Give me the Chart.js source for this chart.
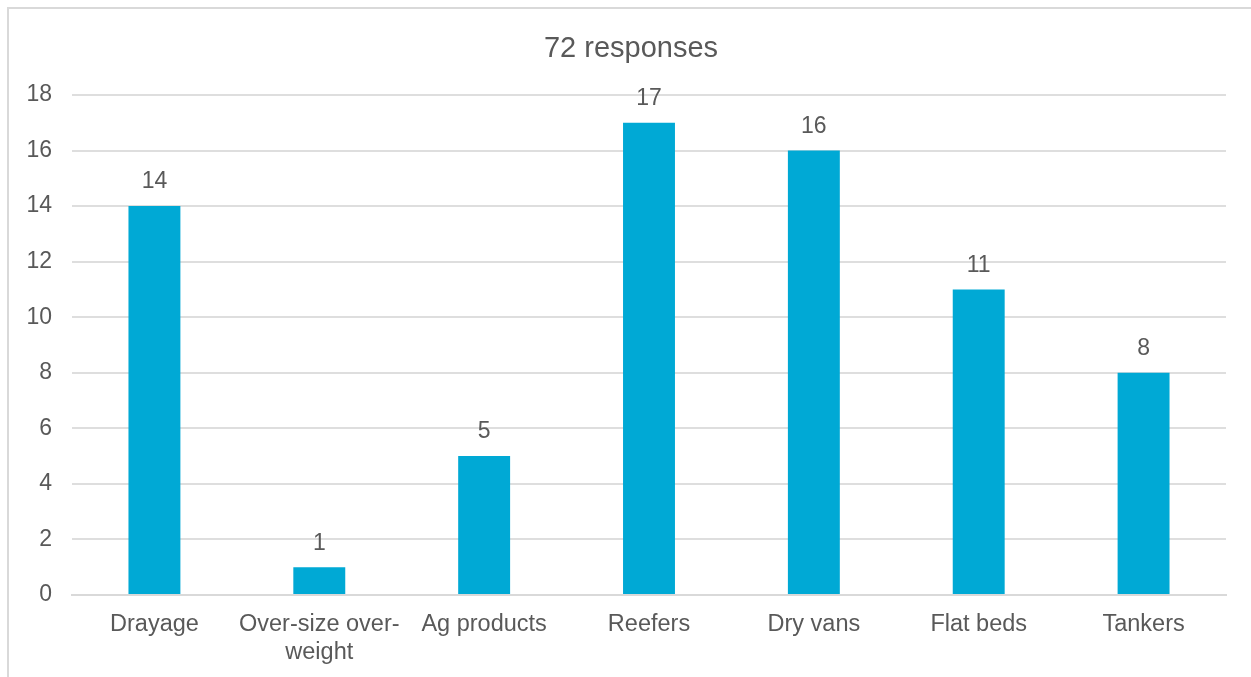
<!DOCTYPE html>
<html>
<head>
<meta charset="utf-8">
<script src="https://cdn.jsdelivr.net/npm/chart.js@4/dist/chart.umd.min.js"></script>
<style>
  body { margin: 0; background: #fff; }
  #wrap { position: relative; width: 1251px; height: 677px; overflow: hidden; }
  #frame { position: absolute; left: 7px; top: 7px; width: 1270px; height: 700px; border: 2px solid #d9d9d9; }
  #trendChart { position: absolute; left: 0; top: 0; }
</style>
</head>
<body>
<div id="wrap">
  <div id="frame"></div>
  <canvas id="trendChart" width="1251" height="677"></canvas>
</div>
<script>
const titleText = "72 responses";
const categories = ["Drayage", ["Over-size over-", "weight"], "Ag products", "Reefers", "Dry vans", "Flat beds", "Tankers"];
const responses = [14, 1, 5, 17, 16, 11, 8];
const yTicks = { min: 0, max: 18, step: 2 };

const textGray = "#595959";
const fontFamily = "'Liberation Sans', Arial, sans-serif";

const titlePlugin = {
  id: "titleText",
  afterDraw(chart) {
    const ctx = chart.ctx;
    ctx.save();
    ctx.fillStyle = textGray;
    ctx.font = "29px " + fontFamily;
    ctx.textAlign = "center";
    ctx.textBaseline = "middle";
    ctx.fillText(titleText, 631, 49);
    ctx.restore();
  }
};

const valueLabels = {
  id: "valueLabels",
  afterDatasetsDraw(chart) {
    const ctx = chart.ctx;
    const meta = chart.getDatasetMeta(0);
    ctx.save();
    ctx.fillStyle = textGray;
    ctx.font = "23px " + fontFamily;
    ctx.textAlign = "center";
    ctx.textBaseline = "middle";
    meta.data.forEach((bar, i) => {
      ctx.fillText(String(responses[i]), bar.x, bar.y - 24);
    });
    ctx.restore();
  }
};

const chart = new Chart(document.getElementById("trendChart"), {
  type: "bar",
  data: {
    labels: categories,
    datasets: [
      {
        data: responses,
        backgroundColor: "#00A9D5",
        borderWidth: 0,
        categoryPercentage: 1,
        barPercentage: 0.315
      }
    ]
  },
  options: {
    responsive: false,
    animation: false,
    layout: {
      padding: { top: 95, right: 25, bottom: 0, left: 0 }
    },
    plugins: {
      legend: { display: false },
      tooltip: { enabled: false }
    },
    scales: {
      x: {
        grid: { display: false, drawTicks: false },
        border: { color: "#d9d9d9", width: 2 },
        ticks: {
          color: textGray,
          font: { family: fontFamily, size: 23.5, lineHeight: 1.2 },
          padding: 15,
          maxRotation: 0,
          autoSkip: false
        },
        afterFit(scale) { scale.height = 82; }
      },
      y: {
        min: yTicks.min,
        max: yTicks.max,
        grid: { color: "#dedede", lineWidth: 2, drawTicks: false },
        border: { display: false },
        ticks: {
          stepSize: yTicks.step,
          color: textGray,
          font: { family: fontFamily, size: 23 },
          padding: 20
        },
        afterFit(scale) { scale.width = 72; }
      }
    }
  },
  plugins: [titlePlugin, valueLabels]
});
</script>
</body>
</html>
